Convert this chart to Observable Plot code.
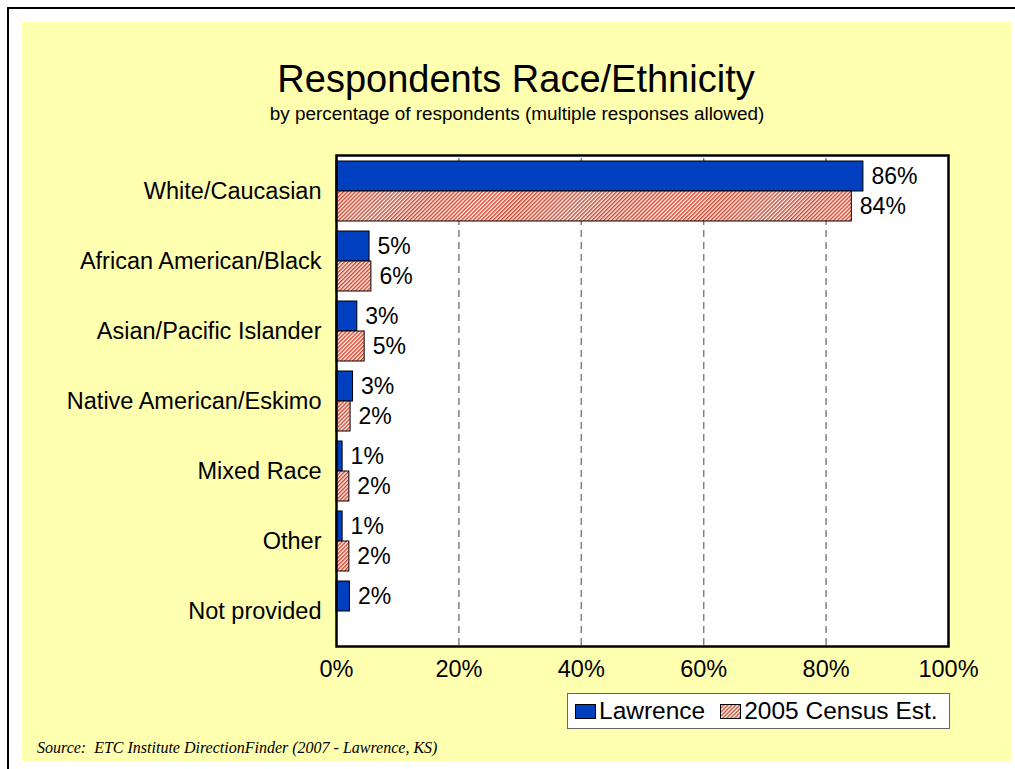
<!DOCTYPE html>
<html>
<head>
<meta charset="utf-8">
<script src="https://cdn.jsdelivr.net/npm/d3@7"></script>
<script src="https://cdn.jsdelivr.net/npm/@observablehq/plot@0.6"></script>
<style>
  html, body { margin: 0; padding: 0; background: #ffffff; }
  #page { position: relative; width: 1015px; height: 769px; overflow: hidden; font-family: Arial, "Liberation Sans", sans-serif; }
  #border { position: absolute; left: 7px; top: 7px; width: 1020px; height: 780px; border-left: 2px solid #000; border-top: 2px solid #000; box-sizing: border-box; }
  #panel { position: absolute; left: 22px; top: 22px; width: 989px; height: 739px; background: #ffffb0; }
  #title { position: absolute; left: 0; width: 1032px; top: 60px; text-align: center; font-size: 38px; line-height: 38px; color: #000; white-space: nowrap; }
  #subtitle { position: absolute; left: 0; width: 1034px; top: 105px; text-align: center; font-size: 18.9px; line-height: 18.9px; color: #000; white-space: nowrap; }
  #chart { position: absolute; left: 22px; top: 140px; }
  #legend { position: absolute; left: 567px; top: 693px; width: 383px; height: 36px; box-sizing: border-box; background: #fff; border: 1px solid #666; display: flex; align-items: center; font-size: 24.5px; color: #000; white-space: nowrap; }
  #legend .item { display: flex; align-items: center; }
  #legend svg { display: block; }
  #source { position: absolute; left: 37px; top: 740px; font-family: "Liberation Serif", "Times New Roman", serif; font-style: italic; font-size: 16px; line-height: 16px; color: #000; white-space: nowrap; }
</style>
</head>
<body>
<div id="page">
  <div id="border"></div>
  <div id="panel"></div>
  <div id="title">Respondents Race/Ethnicity</div>
  <div id="subtitle">by percentage of respondents (multiple responses allowed)</div>
  <div id="chart"></div>
  <div id="legend"></div>
  <div id="source">Source:&nbsp; ETC Institute DirectionFinder (2007 - Lawrence, KS)</div>
</div>
<script>
// ---- Data ----
const categories = [
  "White/Caucasian",
  "African American/Black",
  "Asian/Pacific Islander",
  "Native American/Eskimo",
  "Mixed Race",
  "Other",
  "Not provided"
];
const seriesNames = ["Lawrence", "2005 Census Est."];
const lawrence = [86.1, 5.4, 3.4, 2.7, 1.0, 1.0, 2.2];
const census = [84.2, 5.7, 4.6, 2.3, 2.1, 2.1, null];
const xTicks = [0, 20, 40, 60, 80, 100];

const blue = "#0040c0";
const hatchColor = "#d8452a";

const lawData = categories.map((c, i) => ({category: c, value: lawrence[i]}));
const censusData = categories.map((c, i) => ({category: c, value: census[i]})).filter(d => d.value != null);
const fmt = d => Math.round(d.value) + "%";

const chart = Plot.plot({
  width: 960,
  height: 560,
  marginLeft: 314,
  marginRight: 34,
  marginTop: 15,
  marginBottom: 54,
  style: {background: "transparent", fontFamily: "Arial, 'Liberation Sans', sans-serif", fontSize: "23.5px", color: "#000", overflow: "visible"},
  x: {domain: [0, 100], ticks: xTicks, tickFormat: d => d + "%", tickSize: 0, tickPadding: 14, label: null},
  y: {domain: categories, paddingInner: 0.147, paddingOuter: 0.064, tickSize: 0, tickPadding: 15, label: null},
  marks: [
    Plot.frame({fill: "white", stroke: "none"}),
    Plot.ruleX(xTicks.slice(1, -1), {stroke: "#808080", strokeWidth: 1.5, strokeDasharray: "7,5", strokeDashoffset: 9}),
    Plot.barX(lawData, {x: "value", y: "category", fill: blue, stroke: "#000", strokeWidth: 1, insetBottom: 30}),
    Plot.barX(censusData, {x: "value", y: "category", fill: "url(#hatch)", stroke: "#000", strokeWidth: 1, insetTop: 30}),
    Plot.text(lawData, {x: "value", y: "category", text: fmt, dx: 8, dy: -15, textAnchor: "start", fontSize: 23, fill: "#000"}),
    Plot.text(censusData, {x: "value", y: "category", text: fmt, dx: 8, dy: 15, textAnchor: "start", fontSize: 23, fill: "#000"}),
    Plot.frame({stroke: "#000", strokeWidth: 2.5})
  ]
});

function addHatch(svgNode, id) {
  const ns = "http://www.w3.org/2000/svg";
  const defs = document.createElementNS(ns, "defs");
  const pat = document.createElementNS(ns, "pattern");
  pat.setAttribute("id", id);
  pat.setAttribute("patternUnits", "userSpaceOnUse");
  pat.setAttribute("width", "2.8");
  pat.setAttribute("height", "2.8");
  pat.setAttribute("patternTransform", "rotate(45)");
  const bg = document.createElementNS(ns, "rect");
  bg.setAttribute("width", "2.8"); bg.setAttribute("height", "2.8"); bg.setAttribute("fill", "#fff");
  const ln = document.createElementNS(ns, "rect");
  ln.setAttribute("width", "1.5"); ln.setAttribute("height", "2.8"); ln.setAttribute("fill", hatchColor);
  pat.appendChild(bg); pat.appendChild(ln);
  defs.appendChild(pat);
  svgNode.insertBefore(defs, svgNode.firstChild);
}
addHatch(chart, "hatch");
document.getElementById("chart").appendChild(chart);

// ---- Legend ----
const legend = document.getElementById("legend");
const swatchFills = [blue, "url(#hatchL)"];
seriesNames.forEach((name, i) => {
  const item = document.createElement("div");
  item.className = "item";
  item.style.marginLeft = i === 0 ? "7px" : "15px";
  const svg = d3.create("svg").attr("width", 21).attr("height", 15);
  svg.append("rect").attr("x", 0.5).attr("y", 0.5).attr("width", 20).attr("height", 14)
    .attr("fill", swatchFills[i]).attr("stroke", "#000").attr("stroke-width", 1);
  const node = svg.node();
  if (i === 1) addHatch(node, "hatchL");
  item.appendChild(node);
  const label = document.createElement("span");
  label.textContent = name;
  label.style.marginLeft = "3px";
  item.appendChild(label);
  legend.appendChild(item);
});
</script>
</body>
</html>
